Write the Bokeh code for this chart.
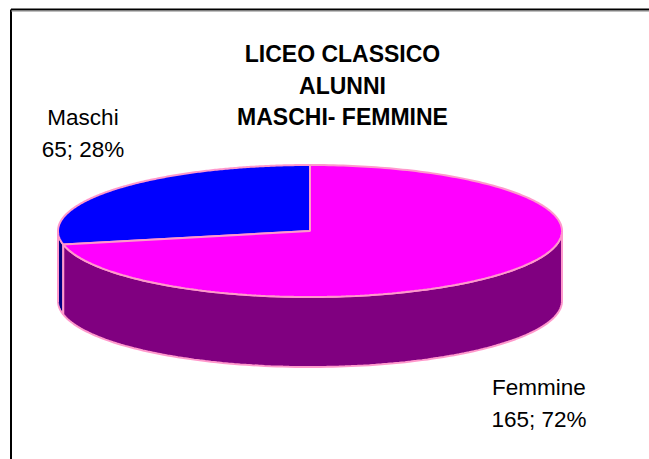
import numpy as np
from bokeh.plotting import figure
from bokeh.models import Range1d
from bokeh.core.properties import value
from bokeh.embed import file_html
from bokeh.resources import INLINE

categories = ["Maschi", "Femmine"]
counts = [65, 165]
percents = ["28%", "72%"]
title_lines = ["LICEO CLASSICO", "ALUNNI", "MASCHI- FEMMINE"]

TOP = {"Maschi": "#0000ff", "Femmine": "#ff00ff"}
SIDE = {"Maschi": "#000080", "Femmine": "#800080"}
EDGE = "#ff99cc"
CX, CY, RX, RY, DEPTH = 309.5, 230.5, 252, 66, 70
FONT = value("Liberation Sans")

p = figure(width=649, height=459, x_range=Range1d(0, 649), y_range=Range1d(459, 0),
           output_backend="svg", toolbar_location=None, min_border=0,
           x_axis_type=None, y_axis_type=None, background_fill_color="white",
           border_fill_color="white", outline_line_color=None)
p.grid.visible = False

# frame (top and left edges only are in view)
p.line([10.5, 10.5], [459, 9], line_color="#000000", line_width=2)
p.line([10.5, 649], [9, 9], line_color="#000000", line_width=2)
p.line([10.5, 649], [10.5, 10.5], line_color="#808080", line_width=1)


def ex(t):
    return CX - RX * np.sin(t)


def ey(t):
    return CY - RY * np.cos(t)


share = np.array(counts, dtype=float) / sum(counts)
# angles run counter-clockwise from 12 o'clock: Maschi first
stops = np.concatenate([[0], np.cumsum(share)]) * 2 * np.pi


def side(a, b, color):
    lo, hi = max(a, np.pi / 2), min(b, 3 * np.pi / 2)
    if hi <= lo:
        return
    t = np.linspace(lo, hi, 120)
    xs = np.concatenate([ex(t), ex(t[::-1])])
    ys = np.concatenate([ey(t), ey(t[::-1]) + DEPTH])
    p.patch(xs, ys, fill_color=color, line_color=EDGE, line_width=2)


for i, c in enumerate(categories):
    side(stops[i], stops[i + 1], SIDE[c])

for i, c in enumerate(categories):
    t = np.linspace(stops[i], stops[i + 1], 240)
    p.patch(np.concatenate([[CX], ex(t)]), np.concatenate([[CY], ey(t)]),
            fill_color=TOP[c], line_color=EDGE, line_width=2)

for y, line in zip([53, 85, 116], title_lines):
    p.text([342], [y], text=[line], text_font=FONT, text_font_size="23px",
           text_font_style="bold", text_align="center", text_baseline="middle",
           text_color="#000000")

label_pos = {"Maschi": (82.5, 117, 149), "Femmine": (538.5, 387, 419)}
for c, n, pct in zip(categories, counts, percents):
    x, y1, y2 = label_pos[c]
    for y, s in ((y1, c), (y2, f"{n}; {pct}")):
        p.text([x], [y], text=[s], text_font=FONT, text_font_size="22.5px",
               text_align="center", text_baseline="middle", text_color="#000000")

open("out.html", "w").write(file_html(p, INLINE))
